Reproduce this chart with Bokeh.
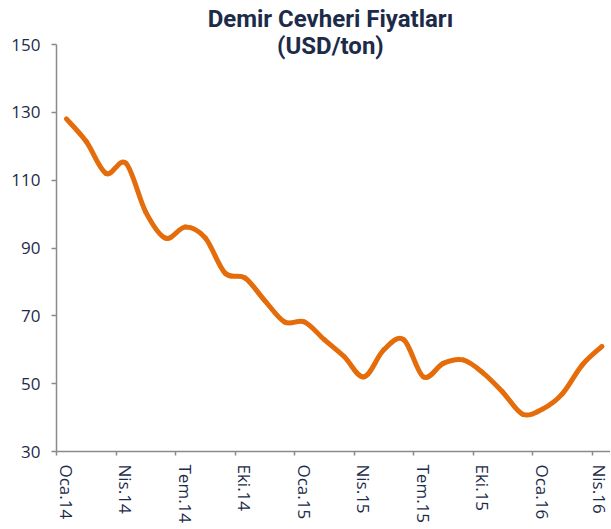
from bokeh.plotting import figure
from bokeh.models import Range1d, FixedTicker, Label
from bokeh.embed import file_html
from bokeh.resources import INLINE

months = ["Oca.14", "Şub.14", "Mar.14", "Nis.14", "May.14", "Haz.14", "Tem.14", "Ağu.14",
          "Eyl.14", "Eki.14", "Kas.14", "Ara.14",
          "Oca.15", "Şub.15", "Mar.15", "Nis.15", "May.15", "Haz.15", "Tem.15", "Ağu.15",
          "Eyl.15", "Eki.15", "Kas.15", "Ara.15",
          "Oca.16", "Şub.16", "Mar.16", "Nis.16"]
prices = [128.1, 121.4, 112.0, 115.0, 100.6, 92.9, 96.2, 93.0, 82.6, 81.2, 74.5, 68.2,
          68.2, 63.0, 58.0, 52.0, 60.0, 63.0, 52.0, 56.0, 57.0, 53.2, 47.5, 41.0,
          42.5, 47.0, 55.5, 61.0]
y_ticks = [30, 50, 70, 90, 110, 130, 150]
title_lines = ["Demir Cevheri Fiyatları", "(USD/ton)"]

n = len(prices)
xs = list(range(n))

NAVY = "#1c2b49"
ORANGE = "#E46C0A"
AXIS = "#8a8a8a"

p = figure(width=610, height=527, output_backend="svg", toolbar_location=None,
           x_range=Range1d(-0.5, 27.43), y_range=Range1d(30, 163.0),
           min_border_left=56, min_border_right=0, min_border_top=0, min_border_bottom=76)
p.outline_line_color = None
p.grid.visible = False
p.background_fill_color = "white"
p.border_fill_color = "white"

# smoothed line (Bezier segments through the monthly values)
def ext(i):
    return max(0, min(n - 1, i))

x0, y0, x1, y1, cx0, cy0, cx1, cy1 = [], [], [], [], [], [], [], []
for i in range(n - 1):
    a, b, c, d = ext(i - 1), i, i + 1, ext(i + 2)
    x0.append(xs[b]); y0.append(prices[b])
    x1.append(xs[c]); y1.append(prices[c])
    cx0.append(xs[b] + (xs[c] - xs[a]) / 6.0)
    cy0.append(prices[b] + (prices[c] - prices[a]) / 6.0)
    cx1.append(xs[c] - (xs[d] - xs[b]) / 6.0)
    cy1.append(prices[c] - (prices[d] - prices[b]) / 6.0)

p.bezier(x0=x0, y0=y0, x1=x1, y1=y1, cx0=cx0, cy0=cy0, cx1=cx1, cy1=cy1,
         line_color=ORANGE, line_width=5, line_cap="round")

# x axis: labels at month centres every 3 months, ticks at category boundaries
lab_idx = list(range(0, n, 3))
xa = p.xaxis[0]
xa.ticker = FixedTicker(ticks=lab_idx, minor_ticks=[i - 0.5 for i in lab_idx])
xa.major_label_overrides = {i: months[i] for i in lab_idx}
xa.major_label_orientation = "vertical"
xa.major_tick_out = 0
xa.major_tick_in = 0
xa.minor_tick_out = 4
xa.minor_tick_in = 0
xa.minor_tick_line_color = AXIS
xa.minor_tick_line_width = 1.5
xa.axis_line_color = AXIS
xa.axis_line_width = 1.5
xa.major_label_standoff = 9
xa.major_label_text_font = "Open Sans"
xa.major_label_text_font_size = "17px"
xa.major_label_text_color = NAVY

ya = p.yaxis[0]
ya.ticker = FixedTicker(ticks=y_ticks, minor_ticks=[])
ya.bounds = (30, 150)
ya.major_tick_out = 5
ya.major_tick_in = 0
ya.major_tick_line_color = AXIS
ya.major_tick_line_width = 1.5
ya.axis_line_color = AXIS
ya.axis_line_width = 1.5
ya.major_label_standoff = 11
ya.major_label_text_font = "Open Sans"
ya.major_label_text_font_size = "17px"
ya.major_label_text_color = NAVY

# two-line title
for txt, yv in zip(title_lines, [157.6, 149.5]):
    p.add_layout(Label(x=13.31, y=yv, text=txt, text_align="center", text_baseline="middle",
                       text_font="Roboto", text_font_style="bold",
                       text_font_size="24px", text_color=NAVY))

open("out.html", "w").write(file_html(p, INLINE))
